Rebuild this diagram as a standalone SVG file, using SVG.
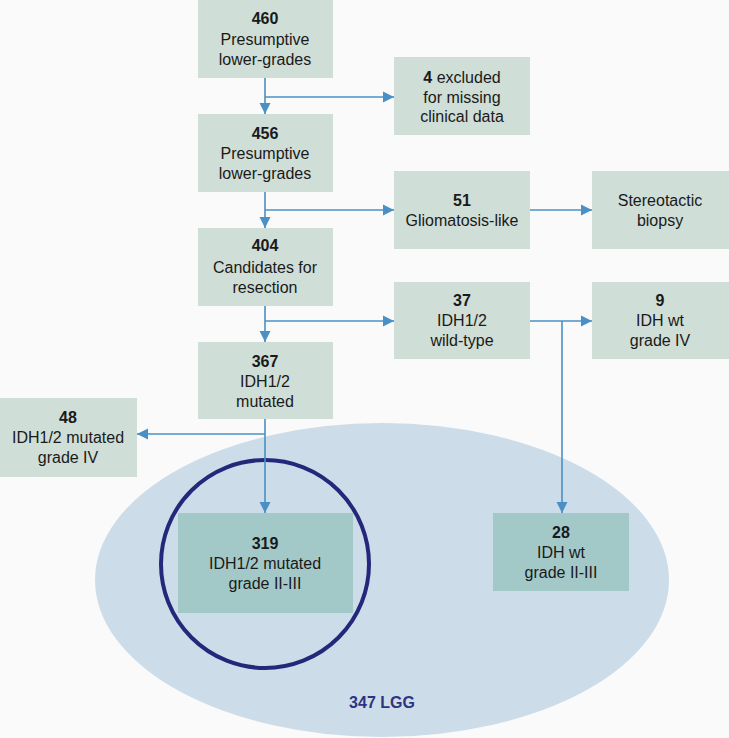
<svg xmlns="http://www.w3.org/2000/svg" width="729" height="738" viewBox="0 0 729 738">
<style>
.box{fill:#cfded6}
.inner{fill:#a3c8c8}
text{font-family:"Liberation Sans",Arial,sans-serif;font-size:16px;fill:#1a1a1a;text-anchor:middle}
.b{font-weight:bold}
.con{stroke:#4a90c4;stroke-width:1.6;fill:none}
</style>
<defs>
<marker id="ah" viewBox="0 0 10 10" refX="10" refY="5" markerWidth="7" markerHeight="7" orient="auto" markerUnits="strokeWidth">
<path d="M0,0 L10,5 L0,10 z" fill="#4a90c4"/>
</marker>
</defs>
<rect width="729" height="738" fill="#fafafa"/>
<g id="lgg">
<ellipse cx="382" cy="580" rx="287" ry="157" fill="#ccdde9"/>
<text x="382" y="708" class="b" style="fill:#2e3482">347 LGG</text>
</g>
<g id="n460"><rect class="box" x="198" y="0" width="135" height="78"/>
<text x="265" y="24" class="b">460</text><text x="265" y="45">Presumptive</text><text x="265" y="65">lower-grades</text></g>
<g id="n4"><rect class="box" x="394" y="57" width="136" height="78"/>
<text x="462" y="83"><tspan class="b">4</tspan> excluded</text><text x="462" y="103">for missing</text><text x="462" y="122">clinical data</text></g>
<g id="n456"><rect class="box" x="198" y="114" width="135" height="78"/>
<text x="265" y="139" class="b">456</text><text x="265" y="159">Presumptive</text><text x="265" y="179">lower-grades</text></g>
<g id="n51"><rect class="box" x="394" y="171" width="136" height="78"/>
<text x="462" y="206" class="b">51</text><text x="462" y="226">Gliomatosis-like</text></g>
<g id="nbiopsy"><rect class="box" x="592" y="171" width="137" height="78"/>
<text x="660" y="206">Stereotactic</text><text x="660" y="226">biopsy</text></g>
<g id="n404"><rect class="box" x="198" y="228" width="135" height="78"/>
<text x="265" y="251" class="b">404</text><text x="265" y="273">Candidates for</text><text x="265" y="293">resection</text></g>
<g id="n37"><rect class="box" x="394" y="282" width="136" height="77"/>
<text x="462" y="306" class="b">37</text><text x="462" y="326">IDH1/2</text><text x="462" y="346">wild-type</text></g>
<g id="n9"><rect class="box" x="592" y="282" width="137" height="77"/>
<text x="660" y="306" class="b">9</text><text x="660" y="326">IDH wt</text><text x="660" y="346">grade IV</text></g>
<g id="n367"><rect class="box" x="198" y="342" width="135" height="77"/>
<text x="265" y="367" class="b">367</text><text x="265" y="387">IDH1/2</text><text x="265" y="407">mutated</text></g>
<g id="n48"><rect class="box" x="0" y="398" width="137" height="79"/>
<text x="68" y="423" class="b">48</text><text x="68" y="443">IDH1/2 mutated</text><text x="68" y="463">grade IV</text></g>
<g id="n319"><rect class="inner" x="178" y="513" width="175" height="100"/>
<text x="265" y="549" class="b">319</text><text x="265" y="569">IDH1/2 mutated</text><text x="265" y="589">grade II-III</text></g>
<g id="n28"><rect class="inner" x="493" y="513" width="136" height="78"/>
<text x="561" y="538" class="b">28</text><text x="561" y="558">IDH wt</text><text x="561" y="578">grade II-III</text></g>
<g id="circle"><circle cx="265" cy="564" r="104" fill="none" stroke="#25287a" stroke-width="4"/></g>
<g id="connectors">
<line class="con" x1="265" y1="78" x2="265" y2="114" marker-end="url(#ah)"/>
<line class="con" x1="265" y1="97" x2="394" y2="97" marker-end="url(#ah)"/>
<line class="con" x1="265" y1="192" x2="265" y2="228" marker-end="url(#ah)"/>
<line class="con" x1="265" y1="210" x2="394" y2="210" marker-end="url(#ah)"/>
<line class="con" x1="530" y1="210" x2="592" y2="210" marker-end="url(#ah)"/>
<line class="con" x1="265" y1="306" x2="265" y2="342" marker-end="url(#ah)"/>
<line class="con" x1="265" y1="321" x2="394" y2="321" marker-end="url(#ah)"/>
<line class="con" x1="530" y1="321" x2="592" y2="321" marker-end="url(#ah)"/>
<line class="con" x1="562" y1="321" x2="562" y2="513" marker-end="url(#ah)"/>
<line class="con" x1="265" y1="419" x2="265" y2="513" marker-end="url(#ah)"/>
<line class="con" x1="265" y1="434" x2="137" y2="434" marker-end="url(#ah)"/>
</g>
</svg>
